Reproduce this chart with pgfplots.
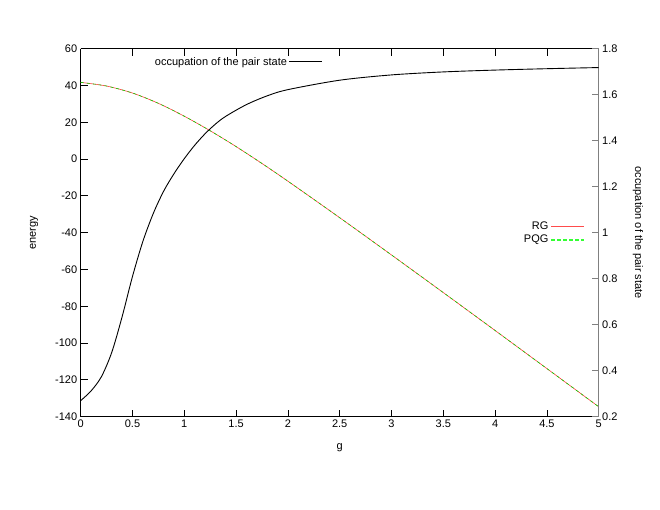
\documentclass[border=0pt]{standalone}
\usepackage{fontspec}
\setmainfont{Liberation Sans}
\usepackage{pgfplots}
\pgfplotsset{compat=1.18}

% energy of the pair state, RG and PQG (they coincide)
\pgfplotstableread{
g     RG      PQG
0     41.7    41.7
0.25  39.7    39.7
0.5   35.9    35.9
0.75  30.3    30.3
1.0   23.3    23.3
1.25  15.4    15.4
1.5   6.8     6.8
1.75  -2.4    -2.4
2.0   -12.0   -12.0
2.5   -31.85  -31.85
3.0   -52.1   -52.1
3.5   -72.55  -72.55
4.0   -93.15  -93.15
4.5   -113.85 -113.85
5.0   -134.6  -134.6
}\energy

\pgfplotstableread{
g    occ
0    0.270
0.1  0.312
0.2  0.374
0.3  0.480
0.4  0.635
0.5  0.810
0.6  0.962
0.7  1.083
0.8  1.180
0.9  1.256
1.0  1.322
1.1  1.380
1.2  1.430
1.3  1.472
1.4  1.506
1.6  1.557
1.8  1.595
2.0  1.622
2.5  1.663
3.0  1.686
3.5  1.699
4.0  1.707
4.5  1.713
5.0  1.718
}\occupation

\pgfplotsset{
  common/.style={
    scale only axis, width=518pt, height=368pt,
    at={(0,0)}, anchor=south west,
    xmin=0, xmax=5,
    font=\fontsize{11}{13}\selectfont,
    /pgf/number format/assume math mode=true,
    major tick length=7pt,
    tick align=inside,
    legend cell align=right,
    legend plot pos=right,
  },
}

\begin{document}
\begin{tikzpicture}
\path[use as bounding box] (-80.7pt,-93.3pt) rectangle (579.3pt,416.7pt);

\begin{axis}[
  common,
  ymin=-140, ymax=60,
  axis x line=box, axis y line*=left,
  xtick={0,0.5,...,5}, xtick pos=both,
  ytick={-140,-120,...,60}, ytick pos=left,
  axis line style={line width=0.9pt},
  tick style={black, line width=0.8pt},
  xlabel={g}, ylabel={energy},
  xlabel style={at={(axis description cs:0.5,-0.084)}, anchor=center},
  ylabel style={at={(axis description cs:-0.09,0.5)}, anchor=center},
  legend style={draw=none, fill=none, inner sep=0pt,
    at={(axis description cs:0.9736,0.4986)}, anchor=east,
    font=\fontsize{11}{11.7}\selectfont},
]
\addplot[red!75, line width=0.6pt, smooth,
  legend image code/.code={\draw[draw=red!70, solid, line width=1pt] (0pt,0pt) -- (33pt,0pt);}]
  table[x=g, y=RG] {\energy};
\addlegendentry{RG}
\addplot[green!85!black, line width=0.6pt, dashed, smooth,
  legend image code/.code={\draw[draw=green!80!white, dash pattern=on 4pt off 2pt, line width=1.4pt] (0pt,0pt) -- (33pt,0pt);}]
  table[x=g, y=PQG] {\energy};
\addlegendentry{PQG}
\end{axis}

\begin{axis}[
  common,
  ymin=0.2, ymax=1.8,
  axis x line=none, axis y line*=right,
  ytick={0.2,0.4,...,1.8}, ytick pos=right,
  yticklabel style={/pgf/number format/fixed, /pgf/number format/precision=1},
  y axis line style={gray, line width=1.2pt},
  ytick style={gray, line width=0.8pt},
  ylabel={occupation of the pair state},
  ylabel style={at={(axis description cs:1.076,0.5)}, anchor=center, rotate=180},
  legend style={draw=none, fill=none, inner sep=0pt,
    at={(axis description cs:0.468,0.964)}, anchor=east,
    font=\fontsize{11}{12}\selectfont},
]
\addplot[black, line width=0.9pt, smooth,
  legend image code/.code={\draw[black, line width=0.9pt] (0pt,0pt) -- (33pt,0pt);}]
  table[x=g, y=occ] {\occupation};
\addlegendentry{occupation of the pair state}
\end{axis}
\end{tikzpicture}
\end{document}
